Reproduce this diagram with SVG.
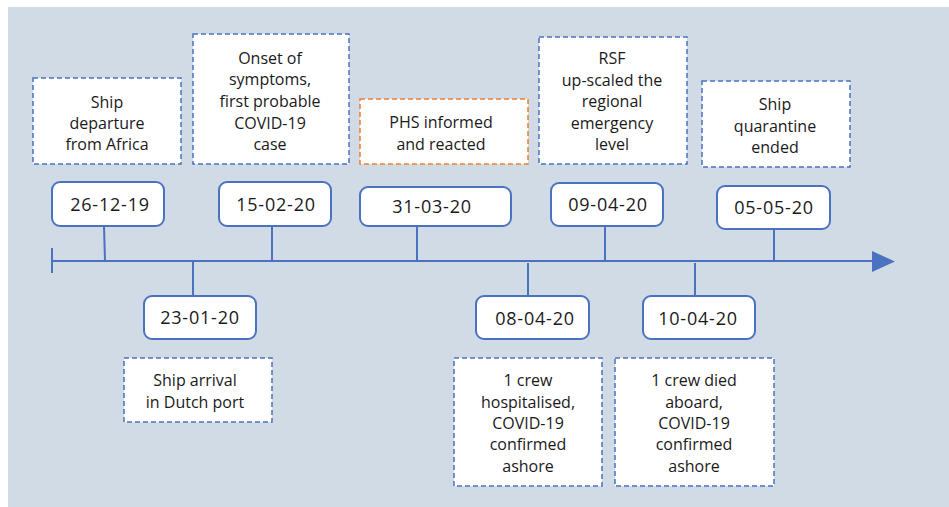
<svg xmlns="http://www.w3.org/2000/svg" width="949" height="507" viewBox="0 0 949 507">
<defs>
<style>
.bg{fill:#D0DBE5}
.ev{fill:#fff;stroke:#4A72C0;stroke-width:1.5;stroke-dasharray:5,3}
.ev.or{stroke:#ED7D31}
.dt{fill:#fff;stroke:#4A72C0;stroke-width:2}
.ln{stroke:#4A72C0;stroke-width:2;fill:none}
text{font-family:"Open Sans","Liberation Sans",sans-serif;font-size:16px;fill:#1a1a1a;text-anchor:middle}
.d{font-size:18px;letter-spacing:0.8px}
</style>
</defs>
<rect x="0" y="0" width="949" height="507" fill="#fff"/>
<rect class="bg" x="8" y="7" width="941" height="500"/>
<g id="connectors">
<line class="ln" x1="52" y1="261" x2="874" y2="261"/>
<line class="ln" x1="52" y1="248" x2="52" y2="273"/>
<polygon points="872,251 895,261.5 872,272" fill="#4A72C0"/>
<line class="ln" x1="104" y1="226" x2="105" y2="261"/>
<line class="ln" x1="272" y1="226" x2="272" y2="261"/>
<line class="ln" x1="417" y1="226" x2="417" y2="261"/>
<line class="ln" x1="605" y1="226" x2="605" y2="261"/>
<line class="ln" x1="774" y1="229" x2="774" y2="261"/>
<line class="ln" x1="193" y1="261" x2="193" y2="296"/>
<line class="ln" x1="528" y1="263" x2="528" y2="296"/>
<line class="ln" x1="695" y1="263" x2="695" y2="296"/>
</g>
<g id="e1">
<rect class="ev" x="33" y="78" width="148" height="86"/>
<text x="107" y="108">Ship</text>
<text x="107" y="129">departure</text>
<text x="107" y="150">from Africa</text>
</g>
<g id="d1">
<rect class="dt" x="52" y="182" width="112" height="44" rx="8"/>
<text class="d" x="110" y="211">26-12-19</text>
</g>
<g id="e2">
<rect class="ev" x="193" y="34" width="156" height="130"/>
<text x="270" y="64">Onset of</text>
<text x="270" y="85">symptoms,</text>
<text x="270" y="107">first probable</text>
<text x="270" y="129">COVID-19</text>
<text x="270" y="150">case</text>
</g>
<g id="d2">
<rect class="dt" x="219" y="182" width="112" height="44" rx="8"/>
<text class="d" x="276" y="211">15-02-20</text>
</g>
<g id="e3">
<rect class="ev or" x="360" y="99" width="168" height="65"/>
<text x="441" y="128">PHS informed</text>
<text x="441" y="150">and reacted</text>
</g>
<g id="d3">
<rect class="dt" x="360" y="187" width="151" height="39" rx="8"/>
<text class="d" x="432" y="213">31-03-20</text>
</g>
<g id="e4">
<rect class="ev" x="539" y="37" width="148" height="127"/>
<text x="612" y="64">RSF</text>
<text x="612" y="86">up-scaled the</text>
<text x="612" y="107">regional</text>
<text x="612" y="129">emergency</text>
<text x="612" y="150">level</text>
</g>
<g id="d4">
<rect class="dt" x="551" y="183" width="112" height="43" rx="8"/>
<text class="d" x="608" y="211">09-04-20</text>
</g>
<g id="e5">
<rect class="ev" x="702" y="81" width="148" height="86"/>
<text x="775" y="110">Ship</text>
<text x="775" y="132">quarantine</text>
<text x="775" y="153">ended</text>
</g>
<g id="d5">
<rect class="dt" x="717" y="186" width="113" height="43" rx="8"/>
<text class="d" x="774" y="214">05-05-20</text>
</g>
<g id="d6">
<rect class="dt" x="144" y="296" width="112" height="43" rx="8"/>
<text class="d" x="200" y="324">23-01-20</text>
</g>
<g id="e6">
<rect class="ev" x="124" y="358" width="148" height="64"/>
<text x="195" y="386">Ship arrival</text>
<text x="195" y="408">in Dutch port</text>
</g>
<g id="d7">
<rect class="dt" x="476" y="296" width="113" height="43" rx="8"/>
<text class="d" x="535" y="325">08-04-20</text>
</g>
<g id="e7">
<rect class="ev" x="454" y="358" width="148" height="128"/>
<text x="528" y="386">1 crew</text>
<text x="528" y="408">hospitalised,</text>
<text x="528" y="429">COVID-19</text>
<text x="528" y="450">confirmed</text>
<text x="528" y="472">ashore</text>
</g>
<g id="d8">
<rect class="dt" x="643" y="296" width="112" height="43" rx="8"/>
<text class="d" x="698" y="325">10-04-20</text>
</g>
<g id="e8">
<rect class="ev" x="615" y="358" width="159" height="128"/>
<text x="694" y="386">1 crew died</text>
<text x="694" y="408">aboard,</text>
<text x="694" y="429">COVID-19</text>
<text x="694" y="450">confirmed</text>
<text x="694" y="472">ashore</text>
</g>
</svg>
